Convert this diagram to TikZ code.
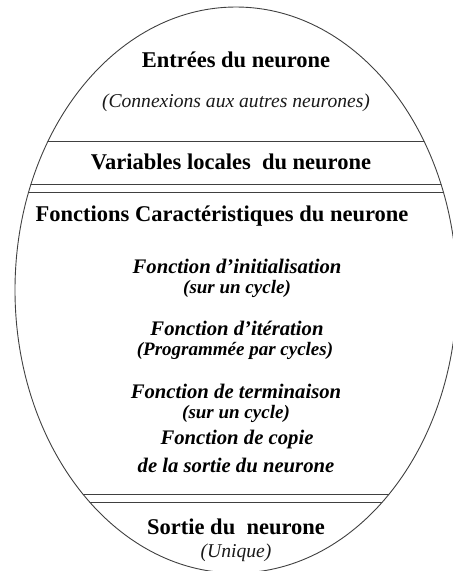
\documentclass[tikz,border=0pt]{standalone}
\usepackage{fontspec}
\setmainfont{Liberation Serif}
\tikzset{
  hd/.style={font=\bfseries\fontsize{22.5}{25}\selectfont, text=black, inner sep=0pt},
  it/.style={font=\itshape\fontsize{19.6}{22}\selectfont, text=black!90, inner sep=0pt},
  bi/.style={font=\bfseries\itshape\fontsize{20.7}{23}\selectfont, text=black, inner sep=0pt},
  bis/.style={font=\bfseries\itshape\fontsize{19}{21}\selectfont, text=black, inner sep=0pt},
  sep/.style={draw=black!75, line width=0.8pt},
}
\begin{document}
\begin{tikzpicture}[x=1pt,y=-1pt]
\useasboundingbox (0,0) rectangle (453,571);
\begin{scope}
  \clip (0,0) rectangle (453,571);
  \draw[draw=black!75, line width=0.9pt] (236,290) ellipse [x radius=221, y radius=283];
  \begin{scope}
    \clip (236,290) ellipse [x radius=221, y radius=283];
    \coordinate (l1a) at (0,141); \coordinate (l1b) at (453,141);
    \coordinate (l2a) at (0,184); \coordinate (l2b) at (453,184);
    \coordinate (l3a) at (0,192); \coordinate (l3b) at (453,192);
    \coordinate (l4a) at (0,494); \coordinate (l4b) at (453,494);
    \coordinate (l5a) at (0,502); \coordinate (l5b) at (453,502);
    \draw[sep] (l1a) -- (l1b);
    \draw[sep] (l2a) -- (l2b);
    \draw[sep] (l3a) -- (l3b);
    \draw[sep] (l4a) -- (l4b);
    \draw[sep] (l5a) -- (l5b);
  \end{scope}
\end{scope}
\node[hd] (entrees) at (236,60) {Entrées du neurone};
\node[it] (connex) at (236,103) {(Connexions aux autres neurones)};
\node[hd] (varloc) at (231,162) {Variables locales\ \ du neurone};
\node[hd] (fonccar) at (222,216) {Fonctions Caractéristiques du neurone};
\node[bi] (finit) at (237,266) {Fonction d’initialisation};
\node[bis] (cyc1) at (237,289) {(sur un cycle)};
\node[bi] (fiter) at (237,328) {Fonction d’itération};
\node[bis] (prog) at (235,351) {(Programmée par cycles)};
\node[bi] (fterm) at (236,391) {Fonction de terminaison};
\node[bis] (cyc2) at (236,414) {(sur un cycle)};
\node[bi] (fcop) at (237,440) {Fonction de copie};
\node[bi] (fsort) at (236,465) {de la sortie du neurone};
\node[hd] (sortie) at (236,527) {Sortie du\ \ neurone};
\node[it] (unique) at (236,553) {(Unique)};
\end{tikzpicture}
\end{document}
